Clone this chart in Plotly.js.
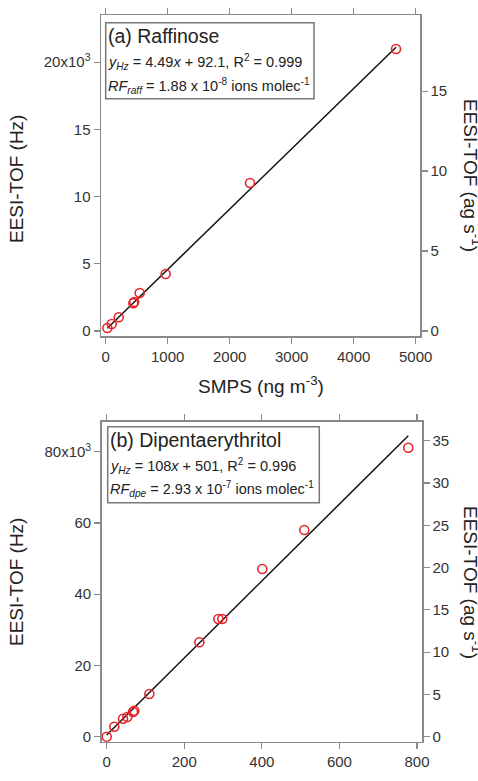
<!DOCTYPE html>
<html>
<head>
<meta charset="utf-8">
<script src="https://cdn.plot.ly/plotly-3.0.1.min.js"></script>
<style>html,body{margin:0;padding:0;background:#fff;}#chart{width:478px;height:781px;}</style>
</head>
<body>
<div id="chart"></div>
<script>
// ---- Data: (a) Raffinose ----
const raffSMPS = [26, 97, 210, 445, 460, 548, 967, 2327, 4682];
const raffHz   = [223, 520, 1020, 2060, 2150, 2830, 4240, 11010, 20980];
const raffFit  = {slope: 4.49, intercept: 92.1};
const raffHzPerAg = 1190;   // right-axis conversion (Hz per ag s-1)

// ---- Data: (b) Dipentaerythritol ----
const dpeSMPS = [0, 19.6, 42, 53.2, 67.9, 71.2, 109.9, 238.8, 287.8, 298.1, 401.2, 509.4, 777.5];
const dpeHz   = [0, 2807, 5053, 5530, 6933, 7298, 11986, 26498, 33038, 33038, 47074, 58021, 81123];
const dpeFit  = {slope: 108, intercept: 501};
const dpeHzPerAg = 2374;    // right-axis conversion (Hz per ag s-1)

// ---- Tick labels ----
const xTicksA = [0, 1000, 2000, 3000, 4000, 5000];
const yTicksA = [0, 5000, 10000, 15000, 20000];
const yTextA  = ['0', '5', '10', '15', '20x10<sup>3</sup>'];
const rTicksA = [0, 5, 10, 15];
const xTicksB = [0, 200, 400, 600, 800];
const yTicksB = [0, 20000, 40000, 60000, 80000];
const yTextB  = ['0', '20', '40', '60', '80x10<sup>3</sup>'];
const rTicksB = [0, 5, 10, 15, 20, 25, 30, 35];

const W = 478, H = 781;
const px = v => v / W;
const py = v => 1 - v / H;

function fitLine(xs, fit) {
  const x0 = Math.min(...xs), x1 = Math.max(...xs);
  return {x: [x0, x1], y: [fit.slope * x0 + fit.intercept, fit.slope * x1 + fit.intercept]};
}
const fa = fitLine(raffSMPS, raffFit);
const fb = fitLine(dpeSMPS, dpeFit);

const red = '#e8242a';
const frame = '#8a8a8a';
const font = 'Liberation Sans, Arial, sans-serif';

const traces = [
  {x: fa.x, y: fa.y, xaxis: 'x', yaxis: 'y', mode: 'lines', line: {color: '#111', width: 1.5}, hoverinfo: 'skip'},
  {x: raffSMPS, y: raffHz, xaxis: 'x', yaxis: 'y', mode: 'markers',
   marker: {symbol: 'circle-open', size: 9, color: red, line: {width: 1.6, color: red}}},
  // same points in ag s-1 (invisible) to carry the right axis
  {x: raffSMPS, y: raffHz.map(v => v / raffHzPerAg), xaxis: 'x', yaxis: 'y3', mode: 'markers',
   marker: {opacity: 0}, hoverinfo: 'skip'},
  {x: fb.x, y: fb.y, xaxis: 'x2', yaxis: 'y2', mode: 'lines', line: {color: '#111', width: 1.5}, hoverinfo: 'skip'},
  {x: dpeSMPS, y: dpeHz, xaxis: 'x2', yaxis: 'y2', mode: 'markers',
   marker: {symbol: 'circle-open', size: 9, color: red, line: {width: 1.6, color: red}}},
  {x: dpeSMPS, y: dpeHz.map(v => v / dpeHzPerAg), xaxis: 'x2', yaxis: 'y4', mode: 'markers',
   marker: {opacity: 0}, hoverinfo: 'skip'}
];

const tickFont = {family: font, size: 15, color: '#333'};
const axBase = {
  showgrid: false, zeroline: false, showline: true, linecolor: frame, linewidth: 1.5,
  ticks: 'outside', ticklen: 6, tickwidth: 1.2, tickcolor: frame, tickfont: tickFont
};

const layout = {
  width: W, height: H,
  margin: {l: 0, r: 0, t: 0, b: 0},
  paper_bgcolor: '#fff', plot_bgcolor: '#fff',
  showlegend: false,
  font: {family: font, color: '#222'},
  xaxis: Object.assign({}, axBase, {domain: [px(101), px(420)], range: [-76, 5069], anchor: 'y',
    tickvals: xTicksA, mirror: 'ticks'}),
  yaxis: Object.assign({}, axBase, {domain: [py(336), py(15)], range: [-372, 23512], anchor: 'x',
    tickvals: yTicksA, ticktext: yTextA}),
  yaxis3: Object.assign({}, axBase, {overlaying: 'y', side: 'right', anchor: 'x',
    range: [-372 / raffHzPerAg, 23512 / raffHzPerAg], tickvals: rTicksA}),
  xaxis2: Object.assign({}, axBase, {domain: [px(101.7), px(422)], range: [-12.9, 812.9], anchor: 'y2',
    tickvals: xTicksB, mirror: 'ticks'}),
  yaxis2: Object.assign({}, axBase, {domain: [py(741.7), py(421.7)], range: [-1403, 88421], anchor: 'x2',
    tickvals: yTicksB, ticktext: yTextB}),
  yaxis4: Object.assign({}, axBase, {overlaying: 'y2', side: 'right', anchor: 'x2',
    range: [-1403 / dpeHzPerAg, 88421 / dpeHzPerAg], tickvals: rTicksB}),
  shapes: [
    {type: 'rect', xref: 'paper', yref: 'paper', x0: px(105.7), x1: px(314), y0: py(98.7), y1: py(22.7),
     line: {color: '#777', width: 1.5}, fillcolor: '#fff', layer: 'below'},
    {type: 'rect', xref: 'paper', yref: 'paper', x0: px(107.7), x1: px(319.3), y0: py(502.7), y1: py(426.7),
     line: {color: '#777', width: 1.5}, fillcolor: '#fff', layer: 'below'}
  ],
  annotations: []
};

function ann(text, x, y, size, opts) {
  return Object.assign({text: text, xref: 'paper', yref: 'paper', x: px(x), y: py(y),
    showarrow: false, xanchor: 'left', yanchor: 'middle', font: {family: font, size: size, color: '#222'}}, opts || {});
}
const A = layout.annotations;
// panel a box text
A.push(ann('(a) Raffinose', 106, 36, 19.5));
A.push(ann('<i>y</i><sub><i>Hz</i></sub> = 4.49<i>x</i> + 92.1, R<sup>2</sup> = 0.999', 106, 61.7, 14.5));
A.push(ann('<i>RF</i><sub><i>raff</i></sub> = 1.88 x 10<sup>-8</sup> ions molec<sup>-1</sup>', 106, 86, 14.5));
// panel b box text
A.push(ann('(b) Dipentaerythritol', 108, 440, 19.5));
A.push(ann('<i>y</i><sub><i>Hz</i></sub> = 108<i>x</i> + 501, R<sup>2</sup> = 0.996', 108, 466, 14.5));
A.push(ann('<i>RF</i><sub><i>dpe</i></sub> = 2.93 x 10<sup>-7</sup> ions molec<sup>-1</sup>', 108, 489.3, 14.5));
// axis titles
A.push(ann('EESI-TOF (Hz)', 16, 179, 19, {xanchor: 'center', textangle: -90}));
A.push(ann('EESI-TOF (ag s<sup>-1</sup>)', 472, 175, 19, {xanchor: 'center', textangle: 90}));
A.push(ann('SMPS (ng m<sup>-3</sup>)', 261, 385, 19, {xanchor: 'center'}));
A.push(ann('EESI-TOF (Hz)', 16, 582, 19, {xanchor: 'center', textangle: -90}));
A.push(ann('EESI-TOF (ag s<sup>-1</sup>)', 472, 582, 19, {xanchor: 'center', textangle: 90}));
A.push(ann('SMPS (ng m<sup>-3</sup>)', 262, 800, 19, {xanchor: 'center'}));

Plotly.newPlot('chart', traces, layout, {displayModeBar: false, staticPlot: true});
</script>
</body>
</html>
